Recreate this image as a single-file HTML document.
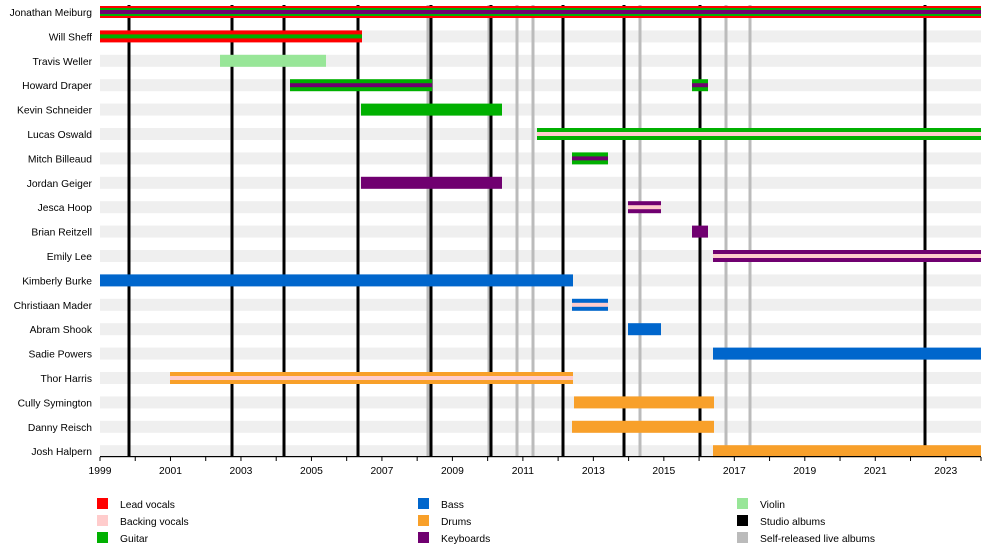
<!DOCTYPE html>
<html><head><meta charset="utf-8"><style>
body{margin:0;background:#fff;}
svg{display:block;font-family:"Liberation Sans",sans-serif;}
</style></head><body>
<svg width="1000" height="555" viewBox="0 0 1000 555" xmlns="http://www.w3.org/2000/svg">
<g id="stripes" fill="#efefef"></g>
<g id="lines"></g>
<g id="bars"></g>
<g id="labels" font-size="10.3" fill="#000" text-anchor="end"></g>
<g id="axis"></g>
<g font-size="10.3" fill="#000">
<rect x="97" y="498" width="11" height="11" fill="#ff0000"/><text x="120" y="508">Lead vocals</text>
<rect x="97" y="515" width="11" height="11" fill="#ffcccc"/><text x="120" y="525">Backing vocals</text>
<rect x="97" y="532" width="11" height="11" fill="#00b000"/><text x="120" y="542">Guitar</text>
<rect x="418" y="498" width="11" height="11" fill="#0066cc"/><text x="441" y="508">Bass</text>
<rect x="418" y="515" width="11" height="11" fill="#f8a02a"/><text x="441" y="525">Drums</text>
<rect x="418" y="532" width="11" height="11" fill="#700070"/><text x="441" y="542">Keyboards</text>
<rect x="737" y="498" width="11" height="11" fill="#98e698"/><text x="760" y="508">Violin</text>
<rect x="737" y="515" width="11" height="11" fill="#000"/><text x="760" y="525">Studio albums</text>
<rect x="737" y="532" width="11" height="11" fill="#bbb"/><text x="760" y="542">Self-released live albums</text>
</g>
<script>
var NS="http://www.w3.org/2000/svg";
function el(p,t,a,txt){var e=document.createElementNS(NS,t);for(var k in a)e.setAttribute(k,a[k]);if(txt)e.textContent=txt;document.getElementById(p).appendChild(e);}
var names=["Jonathan Meiburg","Will Sheff","Travis Weller","Howard Draper","Kevin Schneider","Lucas Oswald","Mitch Billeaud","Jordan Geiger","Jesca Hoop","Brian Reitzell","Emily Lee","Kimberly Burke","Christiaan Mader","Abram Shook","Sadie Powers","Thor Harris","Cully Symington","Danny Reisch","Josh Halpern"];
function cy(i){return 12+24.4*i;}
names.forEach(function(n,i){el("stripes","rect",{x:100,y:cy(i)-6,width:881,height:12});el("labels","text",{x:92,y:cy(i)+4},n);});
[428,489,517,533,640,726,750].forEach(function(x){el("lines","rect",{x:x-1.5,y:5,width:3,height:452,fill:"#bbb"});});
[129,232,284,358,431,491,563,624,700,925].forEach(function(x){el("lines","rect",{x:x-1.5,y:5,width:3,height:452,fill:"#000"});});
var R="#ff0000",B="#ffcccc",G="#00b000",Bs="#0066cc",D="#f8a02a",K="#700070",V="#98e698";
function bar(i,x1,x2,c,mid,mid2){var y=cy(i);el("bars","rect",{x:x1,y:y-6,width:x2-x1,height:12,fill:c});
 if(mid)el("bars","rect",{x:x1,y:y-(mid2?4:2),width:x2-x1,height:mid2?8:4,fill:mid});
 if(mid2)el("bars","rect",{x:x1,y:y-2,width:x2-x1,height:4,fill:mid2});}
bar(0,100,981,R,G,K);
bar(1,100,362,R,G);
bar(2,220,326,V);
bar(3,290,432,G,K);bar(3,692,708,G,K);
bar(4,361,502,G);
bar(5,537,981,G,B);
bar(6,572,608,G,K);
bar(7,361,502,K);
bar(8,628,661,K,B);
bar(9,692,708,K);
bar(10,713,981,K,B);
bar(11,100,573,Bs);
bar(12,572,608,Bs,B);
bar(13,628,661,Bs);
bar(14,713,981,Bs);
bar(15,170,573,D,B);
bar(16,574,714,D);
bar(17,572,714,D);
bar(18,713,981,D);
el("axis","rect",{x:100,y:456,width:881,height:1.2,fill:"#000"});
for(var yr=1999;yr<=2024;yr++){var x=100+(yr-1999)*35.24;el("axis","rect",{x:x-0.5,y:457,width:1,height:4,fill:"#000"});
 if(yr%2==1)el("axis","text",{x:x,y:474,"font-size":"10.3","text-anchor":"middle"},String(yr));}
</script>
</svg>
</body></html>
